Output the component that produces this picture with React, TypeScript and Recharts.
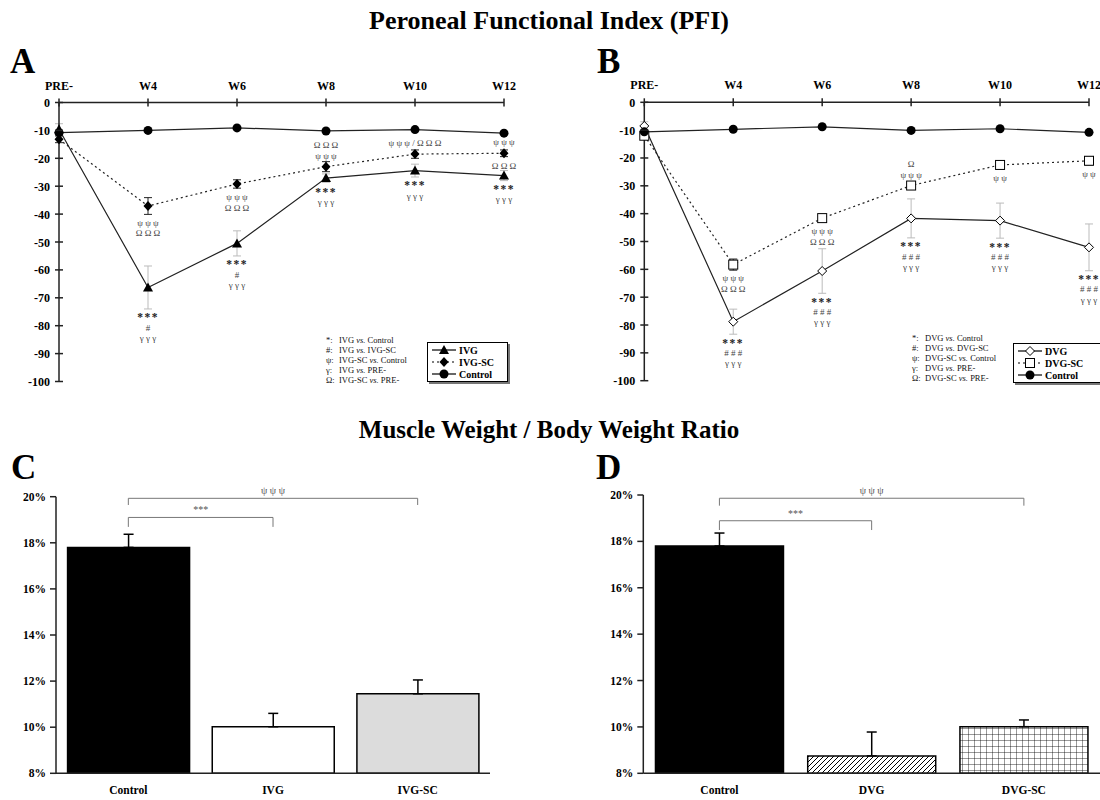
import React from "react";
import {
  Bar,
  BarChart,
  Cell,
  ErrorBar,
  LabelList,
  Legend,
  Line,
  LineChart,
  ReferenceLine,
  XAxis,
  YAxis,
} from "recharts";

const SERIF = '"Liberation Serif", "Times New Roman", serif';

// PFI time course
const weeks = ["PRE-", "W4", "W6", "W8", "W10", "W12"];
const pfiTicks = [0, -10, -20, -30, -40, -50, -60, -70, -80, -90, -100];

// panel A
const controlA = [-10.8, -10.0, -9.1, -10.2, -9.7, -11.0];
const ivg = [-9.6, -66.3, -50.5, -27.1, -24.4, -26.2];
const ivgErr = [2.0, 7.7, 4.5, 1.5, 2.3, 1.8];
const ivgSc = [-13.2, -37.1, -29.2, -23.0, -18.5, -18.2];
const ivgScErr = [1.2, 3.0, 1.5, 1.8, 1.5, 1.2];
const ivgNotes = ["", "***\n#\nγ γ γ", "***\n#\nγ γ γ", "***\nγ γ γ", "***\nγ γ γ", "***\nγ γ γ"];
const ivgScNotesBelow = ["", "ψ ψ ψ\nΩ Ω Ω", "ψ ψ ψ\nΩ Ω Ω", "", "", "Ω Ω Ω"];
const ivgScNotesAbove = ["", "", "", "Ω Ω Ω\nψ ψ ψ", "ψ ψ ψ / Ω Ω Ω", "ψ ψ ψ"];

// panel B
const controlB = [-10.6, -9.7, -8.8, -10.1, -9.5, -10.8];
const dvg = [-8.5, -78.8, -60.6, -41.7, -42.5, -52.1];
const dvgErr = [1.5, 4.5, 8.0, 7.0, 6.3, 8.4];
const dvgSc = [-12.0, -58.3, -41.6, -29.9, -22.5, -21.0];
const dvgScErr = [1.0, 2.0, 1.0, 1.0, 1.5, 1.5];
const dvgNotes = ["", "***\n# # #\nγ γ γ", "***\n# # #\nγ γ γ", "***\n# # #\nγ γ γ", "***\n# # #\nγ γ γ", "***\n# # #\nγ γ γ"];
const dvgScNotesBelow = ["", "ψ ψ ψ\nΩ Ω Ω", "ψ ψ ψ\nΩ Ω Ω", "", "ψ ψ", "ψ ψ"];
const dvgScNotesAbove = ["", "", "", "Ω\nψ ψ ψ", "", ""];

const noteSymbols = ["*", "#", "ψ", "γ", "Ω"];
const notePairsA = [["IVG", "Control"], ["IVG", "IVG-SC"], ["IVG-SC", "Control"], ["IVG", "PRE-"], ["IVG-SC", "PRE-"]];
const notePairsB = [["DVG", "Control"], ["DVG", "DVG-SC"], ["DVG-SC", "Control"], ["DVG", "PRE-"], ["DVG-SC", "PRE-"]];

// muscle / body weight ratio
const ratioTicks = [8, 10, 12, 14, 16, 18, 20];
const groupsC = ["Control", "IVG", "IVG-SC"];
const ratioC = [17.8, 10.02, 11.45];
const ratioErrC = [0.57, 0.58, 0.6];
const groupsD = ["Control", "DVG", "DVG-SC"];
const ratioD = [17.8, 8.75, 10.01];
const ratioErrD = [0.56, 1.03, 0.29];
const bracketsC = [{ from: "Control", to: "IVG", text: "***" }, { from: "Control", to: "IVG-SC", text: "ψ ψ ψ" }];
const bracketsD = [{ from: "Control", to: "DVG", text: "***" }, { from: "Control", to: "DVG-SC", text: "ψ ψ ψ" }];

const markers: Record<string, (cx: number, cy: number) => React.ReactElement> = {
  circle: (cx, cy) => <circle cx={cx} cy={cy} r={4.5} fill="#000" />,
  triangle: (cx, cy) => <path d={`M${cx},${cy - 5} L${cx + 5},${cy + 4} L${cx - 5},${cy + 4} Z`} fill="#000" />,
  diamond: (cx, cy) => <path d={`M${cx},${cy - 5} L${cx + 4.5},${cy} L${cx},${cy + 5} L${cx - 4.5},${cy} Z`} fill="#000" />,
  openDiamond: (cx, cy) => (
    <path d={`M${cx},${cy - 4.5} L${cx + 4.5},${cy} L${cx},${cy + 4.5} L${cx - 4.5},${cy} Z`} fill="#fff" stroke="#000" strokeWidth={1} />
  ),
  openSquare: (cx, cy) => <rect x={cx - 4.5} y={cy - 4.5} width={9} height={9} fill="#fff" stroke="#000" strokeWidth={1} />,
};

const dotOf = (name: string) => (p: any) =>
  p.cx == null ? <g key={`e${p.index}`} /> : <g key={`d${p.index}`}>{markers[name](p.cx, p.cy)}</g>;

const renderTopTick = (p: any) => (
  <g>
    <line x1={p.x} x2={p.x} y1={p.y - 4} y2={p.y + 4} stroke="#222" strokeWidth={1.5} />
    <text x={p.x} y={p.y - 13} textAnchor="middle" fontFamily={SERIF} fontWeight="bold" fontSize={12} fill="#000">
      {p.payload.value}
    </text>
  </g>
);

const renderLeftTick = (p: any) => (
  <g>
    <line x1={p.x - 4} x2={p.x + 4} y1={p.y} y2={p.y} stroke="#222" strokeWidth={1.5} />
    <text x={p.x - 9} y={p.y + 4.5} textAnchor="end" fontFamily={SERIF} fontWeight="bold" fontSize={12} fill="#000">
      {p.payload.value}
    </text>
  </g>
);

// significance symbols stacked under (or over) a point
const noteRenderer = (errs: number[], below: boolean, pxPerUnit: number) => (props: any) => {
  if (!props.value) return null;
  const vb = props.viewBox ?? {};
  const x = vb.x ?? props.x;
  const y = vb.y ?? props.y;
  const lines = String(props.value).split("\n");
  const step = 10.5;
  const start = below
    ? Math.max(y + 13, y + (errs[props.index] ?? 0) * pxPerUnit + 8)
    : y - 11 - (lines.length - 1) * step;
  return (
    <text textAnchor="middle" fontFamily={SERIF}>
      {lines.map((line, k) => {
        const star = line.includes("*");
        return (
          <tspan
            key={k}
            x={x}
            y={start + k * step + (star ? 4.5 : 3.2)}
            fontSize={star ? 11.5 : 9}
            fontWeight={star ? "bold" : "normal"}
            letterSpacing={star ? 1.5 : 0}
            fill={star ? "#222" : "#444"}
          >
            {line}
          </tspan>
        );
      })}
    </text>
  );
};

function Swatch({ marker, dash }: { marker: string; dash?: boolean }) {
  return (
    <svg width={26} height={12}>
      <line x1={1} x2={25} y1={6} y2={6} stroke="#000" strokeWidth={1.2} strokeDasharray={dash ? "2 3" : undefined} />
      {markers[marker](13, 6)}
    </svg>
  );
}

function PfiLegend({ pairs, entries, boxTop, boxWidth }: any) {
  return (
    <div style={{ display: "flex", alignItems: "flex-start", fontFamily: SERIF, color: "#111" }}>
      <div style={{ width: 101, fontSize: 8.5, lineHeight: "10px", whiteSpace: "nowrap" }}>
        {noteSymbols.map((s, i) => (
          <div key={s}>
            <span style={{ display: "inline-block", width: 13 }}>{s}:</span>
            {pairs[i][0]} <i>vs.</i> {pairs[i][1]}
          </div>
        ))}
      </div>
      <div
        style={{
          marginTop: boxTop,
          width: boxWidth,
          border: "1px solid #000",
          boxShadow: "2px 2px 0 #777",
          background: "#fff",
          padding: "1px 3px",
          boxSizing: "border-box",
        }}
      >
        {entries.map((e: any) => (
          <div key={e.name} style={{ display: "flex", alignItems: "center", height: 12, fontSize: 10, fontWeight: "bold", color: "#000" }}>
            <Swatch marker={e.marker} dash={e.dash} />
            <span style={{ marginLeft: 2 }}>{e.name}</span>
          </div>
        ))}
      </div>
    </div>
  );
}

function PfiPanel({ left, width, margin, rows, graftErr, scErr, names, graftMarker, scMarker, pairs, legendPos, boxTop, boxWidth }: any) {
  const height = 340;
  const pxPerUnit = (height - margin.top - margin.bottom - 30) / 100;
  const axisStyle = { stroke: "#222", strokeWidth: 1.5 };
  const entries = [
    { name: names[0], marker: graftMarker },
    { name: names[1], marker: scMarker, dash: true },
    { name: "Control", marker: "circle" },
  ];
  return (
    <div style={{ position: "absolute", left, top: 60 }}>
      <LineChart width={width} height={height} data={rows} margin={margin}>
        <XAxis dataKey="week" orientation="top" height={30} interval={0} tickSize={0} tickMargin={0} tickLine={false} axisLine={axisStyle} tick={renderTopTick} />
        <YAxis type="number" domain={[-100, 0]} ticks={pfiTicks} interval={0} width={50} tickSize={0} tickMargin={0} tickLine={false} axisLine={axisStyle} tick={renderLeftTick} allowDataOverflow />
        <Line dataKey="graft" stroke="#222" strokeWidth={1.2} dot={dotOf(graftMarker)} isAnimationActive={false}>
          <ErrorBar dataKey="graftErr" width={4} stroke="#bbb" strokeWidth={1} direction="y" />
          <LabelList dataKey="graftNote" content={noteRenderer(graftErr, true, pxPerUnit)} />
        </Line>
        <Line dataKey="sc" stroke="#222" strokeWidth={1.2} strokeDasharray="2 3" dot={dotOf(scMarker)} isAnimationActive={false}>
          <ErrorBar dataKey="scErr" width={4} stroke="#222" strokeWidth={1} direction="y" />
          <LabelList dataKey="scBelow" content={noteRenderer(scErr, true, pxPerUnit)} />
          <LabelList dataKey="scAbove" content={noteRenderer(scErr, false, pxPerUnit)} />
        </Line>
        <Line dataKey="control" stroke="#222" strokeWidth={1.2} dot={dotOf("circle")} isAnimationActive={false} />
        <Legend
          layout="horizontal"
          verticalAlign="middle"
          align="center"
          wrapperStyle={{ left: legendPos[0], top: legendPos[1], width: 200 }}
          content={() => <PfiLegend pairs={pairs} entries={entries} boxTop={boxTop} boxWidth={boxWidth} />}
        />
      </LineChart>
    </div>
  );
}

function RatioPanel({ left, width, margin, groups, values, errs, fills, brackets, levels, drops }: any) {
  const rows = groups.map((group: string, i: number) => ({ group, ratio: values[i], err: [0, errs[i]] }));
  const axisStyle = { stroke: "#222", strokeWidth: 1.5 };
  return (
    <div style={{ position: "absolute", left, top: 440 }}>
      <BarChart width={width} height={360} data={rows} margin={margin} barCategoryGap="8%">
        <defs>
          <pattern id="dvgHatch" width={5} height={5} patternUnits="userSpaceOnUse">
            <rect width={5} height={5} fill="#fff" />
            <path d="M-1,1 l2,-2 M0,5 l5,-5 M4,6 l2,-2" stroke="#000" strokeWidth={1} />
          </pattern>
          <pattern id="dvgGrid" width={6} height={6} patternUnits="userSpaceOnUse">
            <rect width={6} height={6} fill="#fff" />
            <path d="M0,0 L6,0 M0,0 L0,6" stroke="#000" strokeWidth={0.8} />
          </pattern>
        </defs>
        <XAxis
          dataKey="group"
          interval={0}
          height={25}
          tickLine={false}
          tickSize={0}
          tickMargin={13}
          axisLine={axisStyle}
          tick={{ fontFamily: SERIF, fontWeight: "bold", fontSize: 11.5, fill: "#000" }}
        />
        <YAxis
          type="number"
          domain={[8, 20]}
          ticks={ratioTicks}
          interval={0}
          width={45}
          tickSize={6}
          tickMargin={4}
          axisLine={axisStyle}
          tickLine={axisStyle}
          tickFormatter={(v: number) => `${v}%`}
          tick={{ fontFamily: SERIF, fontWeight: "bold", fontSize: 11.5, fill: "#000" }}
          allowDataOverflow
        />
        <Bar dataKey="ratio" stroke="#000" strokeWidth={1.5} isAnimationActive={false}>
          {rows.map((r: any, i: number) => (
            <Cell key={r.group} fill={fills[i]} />
          ))}
          <ErrorBar dataKey="err" width={5} stroke="#000" strokeWidth={1.5} direction="y" />
        </Bar>
        {brackets.map((b: any, i: number) => [
          <ReferenceLine
            key={`h${i}`}
            segment={[{ x: b.from, y: levels[i] }, { x: b.to, y: levels[i] }]}
            stroke="#777"
            strokeWidth={1}
            label={{ value: b.text, position: "top", offset: 4, fill: "#555", fontSize: 10, fontFamily: SERIF }}
          />,
          <ReferenceLine key={`l${i}`} segment={[{ x: b.from, y: levels[i] }, { x: b.from, y: levels[i] - drops[i] }]} stroke="#777" strokeWidth={1} />,
          <ReferenceLine key={`r${i}`} segment={[{ x: b.to, y: levels[i] }, { x: b.to, y: levels[i] - drops[i] }]} stroke="#777" strokeWidth={1} />,
        ])}
      </BarChart>
    </div>
  );
}

export default function App() {
  const rowsA = weeks.map((week, i) => ({
    week,
    control: controlA[i],
    graft: ivg[i],
    graftErr: ivgErr[i],
    sc: ivgSc[i],
    scErr: ivgScErr[i],
    graftNote: ivgNotes[i],
    scBelow: ivgScNotesBelow[i],
    scAbove: ivgScNotesAbove[i],
  }));
  const rowsB = weeks.map((week, i) => ({
    week,
    control: controlB[i],
    graft: dvg[i],
    graftErr: dvgErr[i],
    sc: dvgSc[i],
    scErr: dvgScErr[i],
    graftNote: dvgNotes[i],
    scBelow: dvgScNotesBelow[i],
    scAbove: dvgScNotesAbove[i],
  }));

  return (
    <div style={{ position: "absolute", left: 0, top: 0, width: 1100, height: 800, overflow: "hidden", background: "#fff", fontFamily: SERIF }}>
      <PfiPanel
        left={0}
        width={560}
        margin={{ top: 12.5, right: 56, bottom: 18.5, left: 9 }}
        rows={rowsA}
        graftErr={ivgErr}
        scErr={ivgScErr}
        names={["IVG", "IVG-SC"]}
        graftMarker="triangle"
        scMarker="diamond"
        pairs={notePairsA}
        legendPos={[326, 275]}
        boxTop={7}
        boxWidth={81}
      />
      <PfiPanel
        left={590}
        width={510}
        margin={{ top: 12.3, right: 11, bottom: 19.3, left: 4.3 }}
        rows={rowsB}
        graftErr={dvgErr}
        scErr={dvgScErr}
        names={["DVG", "DVG-SC"]}
        graftMarker="openDiamond"
        scMarker="openSquare"
        pairs={notePairsB}
        legendPos={[322, 273]}
        boxTop={10}
        boxWidth={88}
      />
      <RatioPanel
        left={0}
        width={560}
        margin={{ top: 56.7, right: 70, bottom: 1.7, left: 11 }}
        groups={groupsC}
        values={ratioC}
        errs={ratioErrC}
        fills={["#000", "#fff", "#dcdcdc"]}
        brackets={bracketsC}
        levels={[19.1, 19.93]}
        drops={[0.41, 0.29]}
      />
      <RatioPanel
        left={590}
        width={510}
        margin={{ top: 55, right: 0, bottom: 1.7, left: 8.3 }}
        groups={groupsD}
        values={ratioD}
        errs={ratioErrD}
        fills={["#000", "url(#dvgHatch)", "url(#dvgGrid)"]}
        brackets={bracketsD}
        levels={[18.89, 19.86]}
        drops={[0.4, 0.32]}
      />
      <svg width={1100} height={800} style={{ position: "absolute", left: 0, top: 0, pointerEvents: "none" }}>
        <g fontFamily={SERIF} fontWeight="bold" fill="#000">
          <text x={549} y={29} textAnchor="middle" fontSize={26}>Peroneal Functional Index (PFI)</text>
          <text x={549} y={438} textAnchor="middle" fontSize={25}>Muscle Weight / Body Weight Ratio</text>
          <text x={10} y={73} fontSize={35}>A</text>
          <text x={597} y={73} fontSize={35}>B</text>
          <text x={11} y={479} fontSize={35}>C</text>
          <text x={596} y={479} fontSize={35}>D</text>
        </g>
      </svg>
    </div>
  );
}
